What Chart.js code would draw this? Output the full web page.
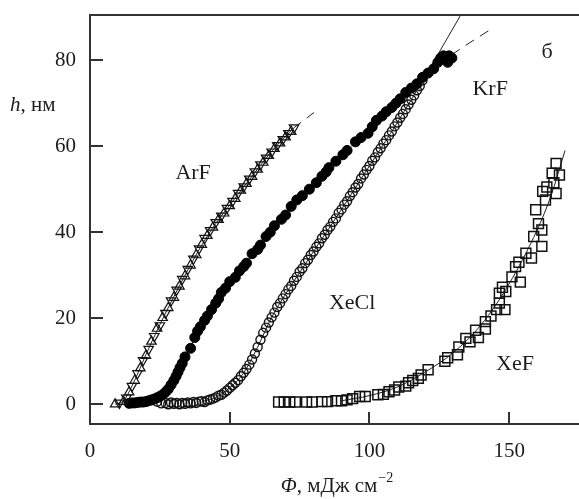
<!DOCTYPE html>
<html>
<head>
<meta charset="utf-8">
<script src="https://cdn.jsdelivr.net/npm/chart.js@4.4.1/dist/chart.umd.min.js"></script>
<style>
  body { margin: 0; background: #fff; }
  #wrap { width: 579px; height: 499px; }
</style>
</head>
<body>
<div id="wrap"><canvas id="chart"></canvas></div>
<script>
    // ArF, open triangles
    const arfPhi = [9, 10.5, 12, 13, 14, 15, 16, 17, 18, 19, 20, 21, 22, 23, 24, 25, 26, 27, 28, 29, 30, 31, 32, 33, 34, 35, 36, 37, 38, 39, 40, 41, 42, 43, 44, 45, 46, 47, 48, 49, 50, 51, 52, 53, 54, 55, 56, 57, 58, 59, 60, 61, 62, 63, 64, 65, 66, 67, 68, 69, 70, 71, 72, 73];
    const arfH = [0, 0.3, 0.6, 1.5, 2.8, 4.2, 5.5, 7.2, 8.4, 10.2, 11.3, 12.8, 14.6, 15.8, 17.6, 18.3, 20.1, 21.2, 22.4, 24.1, 24.8, 26.6, 27.4, 29.1, 29.8, 31.4, 32.3, 33.8, 34.7, 36.2, 37.1, 38.6, 39.2, 40.4, 41.1, 42.3, 42.9, 43.8, 44.4, 45.6, 46.1, 47.2, 47.8, 49.1, 49.7, 50.6, 51.3, 52.4, 52.9, 54.1, 54.6, 55.7, 56.2, 57.3, 57.8, 58.7, 59.4, 60.2, 60.7, 61.6, 62.1, 63.0, 63.4, 64.3];

    // KrF, filled circles
    const krfPhi = [14, 15, 16, 17, 18, 19, 20, 21, 22, 23, 24, 25, 26, 27, 28, 29, 30, 30.8, 31.5, 32.2, 33, 34, 36, 37.5, 38.5, 39.5, 41, 42, 43.5, 45, 46, 47, 48.5, 50, 52, 53.5, 55, 56, 58, 60, 61, 63, 64.5, 66, 68.5, 70, 72, 74, 76, 78.5, 81, 83, 84.5, 85.5, 88, 90.5, 92, 95, 97, 99.5, 101, 102.5, 104.5, 106, 108, 109.5, 111, 113, 115, 117, 119, 121, 123, 124.5, 125.5, 126.5, 127.5, 128.5, 129.5, 128];
    const krfH = [0.2, 0.3, 0.3, 0.4, 0.5, 0.5, 0.6, 0.8, 1.0, 1.2, 1.5, 1.8, 2.2, 2.8, 3.5, 4.5, 5.5, 6.5, 7.5, 8.5, 9.5, 11, 13, 15.5, 17, 18, 19.5, 20.5, 22, 23.5, 24.5, 26, 27, 28.5, 29.5, 31, 32, 32.8, 35, 36, 37, 39, 40, 41.5, 43, 44, 46, 47.5, 48.5, 50, 51.5, 53, 54, 55, 56.5, 58, 59, 61, 62, 63, 64.5, 66, 67, 68, 69, 70, 71, 72.5, 73.5, 74.5, 76, 77, 78, 79.5, 80.5, 81, 80.5, 81, 80.5, 79.5];

    // XeCl, small open circles
    const xeclPhi = [24, 25.5, 27, 28, 29, 30, 31, 32, 33, 34, 35, 36, 37, 38, 39, 40, 41, 42, 43, 44, 45, 46, 47, 48, 49, 50, 51, 52, 53, 54, 55, 56, 57, 58, 59, 60, 61, 62, 63, 64, 65, 66, 67, 68, 69, 70, 71, 72, 73, 74, 75, 76, 77, 78, 79, 80, 81, 82, 83, 84, 85, 86, 87, 88, 89, 90, 91, 92, 93, 94, 95, 96, 97, 98, 99, 100, 101, 102, 103, 104, 105, 106, 107, 108, 109, 110, 111, 112, 113, 114, 115, 116, 117, 118, 119];
    const xeclH = [0.6, 0.2, 0.3, 0, 0.4, 0.1, 0.3, 0, 0.3, 0.1, 0.4, 0.2, 0.5, 0.3, 0.6, 0.7, 0.5, 0.9, 1.1, 1.3, 1.6, 2.0, 2.2, 2.7, 3.2, 3.8, 4.4, 5.0, 5.6, 6.5, 7.3, 8.2, 9.2, 10.4, 11.8, 13.3, 15.0, 16.6, 17.8, 19.0, 20.2, 21.3, 22.6, 23.5, 24.6, 25.6, 26.7, 27.5, 28.7, 29.6, 30.8, 31.6, 32.8, 33.6, 34.7, 35.5, 36.6, 37.4, 38.6, 39.4, 40.5, 41.3, 42.4, 43.2, 44.5, 45.3, 46.4, 47.2, 48.4, 49.3, 50.4, 51.2, 52.5, 53.4, 54.5, 55.4, 56.6, 57.4, 58.6, 59.5, 60.6, 61.4, 62.5, 63.4, 64.6, 65.5, 66.6, 67.5, 68.6, 69.7, 70.8, 71.8, 73.0, 74.0, 75.3];

    // XeF, open squares
    const xefPhi = [67.5, 69.5, 71.5, 73.5, 77.5, 79.5, 83, 85, 88, 90, 92, 94, 96.5, 98.5, 103, 105, 107, 109, 110.5, 113, 114, 115.5, 117.5, 118.5, 121, 127, 128, 131.5, 132, 134.5, 136, 138, 139, 141.5, 141.5, 143.5, 145.5, 148.5, 146.5, 146.5, 148.8, 147.6, 151, 154, 152.3, 153.5, 156, 158, 161.7, 158.8, 161.7, 160.5, 159.5, 163, 162, 166.8, 163.5, 166, 168, 165.4, 166.8];
    const xefH = [0.5, 0.5, 0.5, 0.5, 0.5, 0.5, 0.6, 0.6, 0.8, 0.8, 1.0, 1.3, 1.8, 1.8, 2.2, 2.3, 2.9, 3.3, 4.0, 4.2, 5.0, 5.5, 6.0, 6.8, 8.0, 10.0, 10.8, 11.5, 13.3, 15.3, 14.5, 17.2, 15.5, 17.5, 19.2, 20.5, 22.0, 22.0, 23.5, 25.8, 26.2, 27.2, 29.6, 28.4, 32.0, 33.0, 35.1, 34.0, 36.7, 39.0, 40.5, 42.0, 45.2, 47.5, 49.5, 49.0, 50.5, 51.5, 53.3, 53.7, 56.0];

    // fitted curves
    const arfFitPhi = [9, 12, 15, 20, 25, 30, 35, 40, 45, 50, 55, 60, 65, 70, 73];
    const arfFitH = [0, 0.8, 4.2, 11.5, 18.5, 25, 31.2, 37, 42, 46.3, 50.5, 54.7, 58.8, 62.3, 64.3];
    const arfDashPhi = [73, 80.5];
    const arfDashH = [64.3, 68];
    const krfDashPhi = [28, 35, 40, 50, 60, 70, 80, 90, 100, 110, 120, 130, 143];
    const krfDashH = [3.5, 12, 19, 28.3, 36, 44, 51, 57.6, 64.2, 70.5, 76.6, 81.5, 87];
    const xeclFitPhi = [40, 45, 50, 55, 60, 65, 70, 80, 90, 100, 110, 120, 134];
    const xeclFitH = [0.6, 1.6, 3.8, 7.3, 13.3, 20.2, 25.6, 35.5, 45.3, 55.4, 65.5, 76.3, 92];
    const xefFitPhi = [90, 100, 110, 120, 130, 140, 150, 160, 165, 170];
    const xefFitH = [0.8, 2, 4, 7.5, 12, 18.5, 28, 40.5, 48.5, 59];

    const xTicks = [0, 50, 100, 150];
    const yTicks = [0, 20, 40, 60, 80];

    // curve labels, in data units
    const labelText = ['ArF', 'KrF', 'б', 'XeCl', 'XeF'];
    const labelPhi = [36.9, 143.2, 163.6, 93.8, 152.1];
    const labelH = [53.8, 73.3, 81.9, 23.5, 9.4];

    const serif = "'Liberation Serif', 'Times New Roman', serif";
    const ink = '#1c1c1c';

    function pairs(xs, ys) {
        return xs.map((v, i) => ({ x: v, y: ys[i] }));
    }

    function fitLine(xs, ys, dash) {
        return {
            type: 'line',
            data: pairs(xs, ys),
            borderColor: '#222',
            borderWidth: 1,
            borderDash: dash || [],
            pointRadius: 0,
            cubicInterpolationMode: 'monotone',
            fill: false
        };
    }

    // frame top line, inward ticks, axis titles and curve labels
    const decorPlugin = {
        id: 'decor',
        afterDraw(chart) {
            const { ctx, chartArea: a, scales: { x, y } } = chart;
            ctx.save();
            ctx.strokeStyle = '#333';
            ctx.lineWidth = 2;
            ctx.beginPath();
            ctx.moveTo(a.left, a.top);
            ctx.lineTo(a.right, a.top);
            xTicks.forEach(v => {
                if (v === 0) return;
                const px = Math.round(x.getPixelForValue(v));
                ctx.moveTo(px, a.bottom);
                ctx.lineTo(px, a.bottom - 12);
            });
            yTicks.forEach(v => {
                const py = Math.round(y.getPixelForValue(v));
                ctx.moveTo(a.left, py);
                ctx.lineTo(a.left + 13, py);
            });
            ctx.stroke();

            ctx.fillStyle = ink;
            ctx.textBaseline = 'middle';
            ctx.textAlign = 'center';
            ctx.font = '22px ' + serif;
            labelText.forEach((t, i) => {
                ctx.fillText(t, x.getPixelForValue(labelPhi[i]), y.getPixelForValue(labelH[i]));
            });

            // y title "h, нм"
            ctx.textAlign = 'left';
            ctx.textBaseline = 'alphabetic';
            ctx.font = 'italic 21px ' + serif;
            ctx.fillText('h', 10, 111);
            let w = ctx.measureText('h').width;
            ctx.font = '21px ' + serif;
            ctx.fillText(', нм', 10 + w, 111);

            // x title "Φ, мДж см−2"
            ctx.font = 'italic 21px ' + serif;
            const wPhi = ctx.measureText('Φ').width;
            ctx.font = '21px ' + serif;
            const rest = ', мДж см';
            const wRest = ctx.measureText(rest).width;
            ctx.font = '14px ' + serif;
            const wSup = ctx.measureText('−2').width;
            let left = (a.left + a.right) / 2 + 2 - (wPhi + wRest + wSup) / 2;
            ctx.font = 'italic 21px ' + serif;
            ctx.fillText('Φ', left, 492);
            ctx.font = '21px ' + serif;
            ctx.fillText(rest, left + wPhi, 492);
            ctx.font = '14px ' + serif;
            ctx.fillText('−2', left + wPhi + wRest + 1, 482);
            ctx.restore();
        }
    };

    const ctx = document.getElementById('chart').getContext('2d');
    const chart = new Chart(ctx, {
        type: 'scatter',
        data: {
            datasets: [
                {
                    data: pairs(arfPhi, arfH),
                    pointStyle: 'triangle',
                    pointRadius: 5.5,
                    pointRotation: c => (c.dataIndex % 2 ? 180 : 0),
                    borderColor: '#111',
                    borderWidth: 1.2,
                    backgroundColor: 'rgba(255,255,255,0)'
                },
                {
                    data: pairs(krfPhi, krfH),
                    pointStyle: 'circle',
                    pointRadius: 5,
                    borderColor: '#000',
                    borderWidth: 1,
                    backgroundColor: '#000'
                },
                {
                    data: pairs(xeclPhi, xeclH),
                    pointStyle: 'circle',
                    pointRadius: 4.5,
                    borderColor: '#111',
                    borderWidth: 1.4,
                    backgroundColor: 'rgba(255,255,255,0)'
                },
                {
                    data: pairs(xefPhi, xefH),
                    pointStyle: 'rect',
                    pointRadius: 7,
                    borderColor: '#111',
                    borderWidth: 1.5,
                    backgroundColor: 'rgba(255,255,255,0)'
                },
                fitLine(arfFitPhi, arfFitH),
                fitLine(arfDashPhi, arfDashH, [9, 7]),
                fitLine(krfDashPhi, krfDashH, [10, 7]),
                fitLine(xeclFitPhi, xeclFitH),
                fitLine(xefFitPhi, xefFitH)
            ]
        },
        options: {
            responsive: true,
            maintainAspectRatio: false,
            animation: false,
            layout: { autoPadding: false, padding: { top: 15, right: 0, left: 0, bottom: 0 } },
            plugins: {
                legend: { display: false },
                tooltip: { enabled: false }
            },
            scales: {
                x: {
                    type: 'linear',
                    min: 0,
                    max: 175,
                    grid: { display: false, drawTicks: false },
                    border: { display: true, color: '#333', width: 2 },
                    ticks: {
                        stepSize: 50,
                        includeBounds: false,
                        padding: 15,
                        color: ink,
                        font: { family: serif, size: 21 }
                    },
                    afterFit: s => {
                        s.height = 75;
                        s.paddingLeft = 0;
                        s.paddingRight = 0;
                    }
                },
                y: {
                    type: 'linear',
                    min: -4.6,
                    max: 90.5,
                    grid: { display: false, drawTicks: false },
                    border: { display: true, color: '#333', width: 2 },
                    ticks: {
                        stepSize: 20,
                        includeBounds: false,
                        padding: 14,
                        color: ink,
                        font: { family: serif, size: 21 }
                    },
                    afterFit: s => {
                        s.width = 90;
                        s.paddingTop = 0;
                        s.paddingBottom = 0;
                    }
                }
            }
        },
        plugins: [decorPlugin]
    });
</script>
</body>
</html>
